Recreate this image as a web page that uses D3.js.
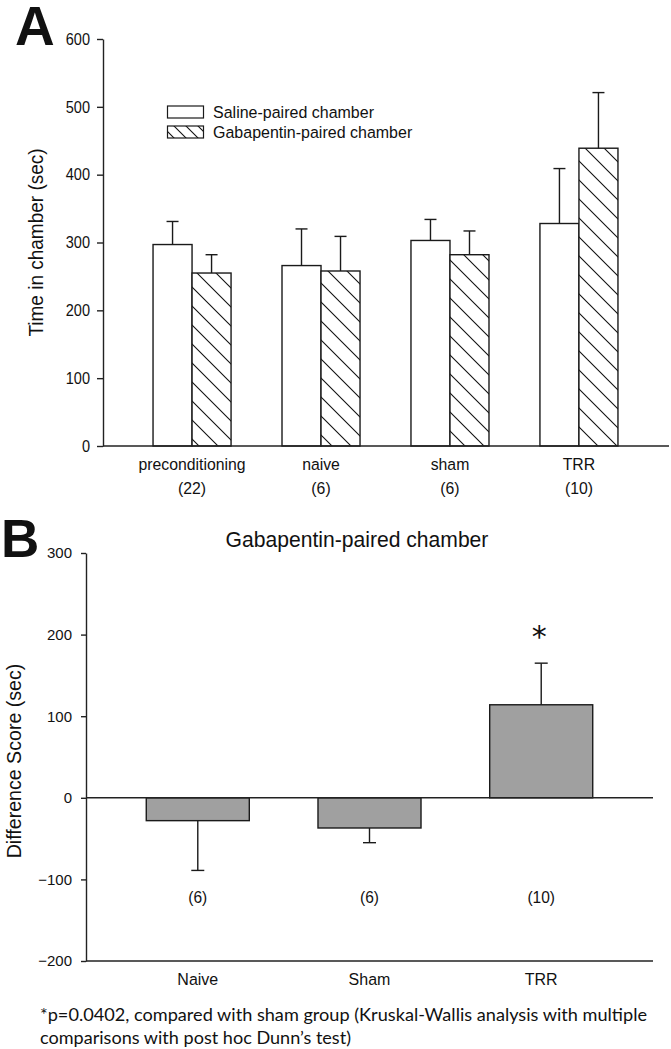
<!DOCTYPE html>
<html>
<head>
<meta charset="utf-8">
<script src="https://cdn.jsdelivr.net/npm/d3@7"></script>
<style>
  html, body { margin: 0; padding: 0; background: #fff; }
  svg { display: block; }
  text { font-family: "Liberation Sans", Arial, sans-serif; fill: #111; }
</style>
</head>
<body>
<script>
// ---------- Data: Panel A ----------
const groupsA = ["preconditioning", "naive", "sham", "TRR"];
const countsA = ["(22)", "(6)", "(6)", "(10)"];
const seriesA = ["Saline-paired chamber", "Gabapentin-paired chamber"];
const salineMean = [297, 266, 303, 328];
const salineSEM  = [34, 54, 31, 81];
const gabaMean   = [255, 258, 282, 439];
const gabaSEM    = [27, 51, 35, 82];
const ticksA = [0, 100, 200, 300, 400, 500, 600];

// ---------- Data: Panel B ----------
const groupsB = ["Naive", "Sham", "TRR"];
const countsB = ["(6)", "(6)", "(10)"];
const diffMean = [-28, -37, 114];
const diffSEM  = [61, 18, 51];
const ticksB = [-200, -100, 0, 100, 200, 300];
const titleB = "Gabapentin-paired chamber";
const footnote = ["*p=0.0402, compared with sham group (Kruskal-Wallis analysis with multiple",
                  "comparisons with post hoc Dunn\u2019s test)"];

const W = 671, H = 1049;
const svg = d3.select("body").append("svg").attr("width", W).attr("height", H);

const defs = svg.append("defs");
function hatch(id, s) {
  const p = defs.append("pattern").attr("id", id).attr("patternUnits", "userSpaceOnUse")
    .attr("width", s).attr("height", s);
  p.append("rect").attr("width", s).attr("height", s).attr("fill", "#fff");
  p.append("path").attr("d", `M-2,-2L${s+2},${s+2}M-2,${s-2}L2,${s+2}M${s-2},-2L${s+2},2`)
    .attr("stroke", "#111").attr("stroke-width", 1.1);
}
hatch("hatchBar", 19);
hatch("hatchLeg", 12);

const AX = "#222", AXW = 1.4;

// helper: horizontally condensed text
function ctext(sel, x, y, str, size, sx, anchor, rot) {
  return sel.append("text")
    .attr("transform", `translate(${x},${y})` + (rot ? ` rotate(${rot})` : "") + ` scale(${sx},1)`)
    .attr("text-anchor", anchor || "start").style("font-size", size + "px").text(str);
}

// ================= Panel A =================
const yA = d3.scaleLinear().domain([0, 600]).range([446, 39]);
const xA = d3.scaleBand().domain(groupsA).range([103, 668]).paddingInner(0.395).paddingOuter(0.388);
const xS = d3.scaleBand().domain(seriesA).range([0, xA.bandwidth()]);

const gA = svg.append("g");
const rowsA = groupsA.map((g, i) => [
  {g, s: seriesA[0], m: salineMean[i], e: salineSEM[i], fill: "#fff"},
  {g, s: seriesA[1], m: gabaMean[i], e: gabaSEM[i], fill: "url(#hatchBar)"}
]).flat();

gA.selectAll("rect.bar").data(rowsA).join("rect")
  .attr("x", d => xA(d.g) + xS(d.s)).attr("width", xS.bandwidth())
  .attr("y", d => yA(d.m)).attr("height", d => yA(0) - yA(d.m))
  .attr("fill", d => d.fill).attr("stroke", "#1a1a1a").attr("stroke-width", 1.4);

const cxA = d => xA(d.g) + xS(d.s) + xS.bandwidth() / 2;
const errA = gA.selectAll("g.err").data(rowsA).join("g");
errA.append("line")
  .attr("x1", cxA).attr("x2", cxA)
  .attr("y1", d => yA(d.m)).attr("y2", d => yA(d.m + d.e))
  .attr("stroke", "#1a1a1a").attr("stroke-width", 1.4);
errA.append("line")
  .attr("x1", d => cxA(d) - 6).attr("x2", d => cxA(d) + 6)
  .attr("y1", d => yA(d.m + d.e)).attr("y2", d => yA(d.m + d.e))
  .attr("stroke", "#1a1a1a").attr("stroke-width", 1.4);

// y axis A
const axA = gA.append("g").attr("transform", "translate(103,0)")
  .call(d3.axisLeft(yA).tickValues(ticksA).tickSize(6).tickSizeOuter(0).tickPadding(7));
axA.selectAll("path, line").attr("stroke", AX).attr("stroke-width", AXW);
axA.selectAll("text").style("font-size", "16.5px").attr("fill", "#111")
  .style("font-family", "Liberation Sans, Arial, sans-serif")
  .attr("x", -13 / 0.88).attr("transform", "scale(0.88,1)");

// x axis line A
gA.append("line").attr("x1", 103).attr("x2", 669).attr("y1", yA(0)).attr("y2", yA(0))
  .attr("stroke", AX).attr("stroke-width", AXW);

// category labels A
groupsA.forEach((g, i) => {
  const cx = xA(g) + xA.bandwidth() / 2;
  ctext(gA, cx, 470, g, 17, 0.93, "middle");
  ctext(gA, cx, 493.5, countsA[i], 17, 0.93, "middle");
});

// y label A
ctext(gA, 43, 242.5, "Time in chamber (sec)", 20, 0.95, "middle", -90);

// legend A
const leg = gA.append("g");
seriesA.forEach((s, i) => {
  leg.append("rect").attr("x", 167.5).attr("y", 106 + i * 20).attr("width", 36).attr("height", 12)
    .attr("fill", i === 0 ? "#fff" : "url(#hatchLeg)").attr("stroke", "#1a1a1a").attr("stroke-width", 1.2);
  ctext(leg, 213, 117.5 + i * 20, s, 16.5, 0.97, "start");
});

// panel letter A
svg.append("text").attr("x", 15).attr("y", 45).style("font-size", "55px").style("font-weight", "bold")
  .attr("fill", "#000").text("A");

// ================= Panel B =================
const yB = d3.scaleLinear().domain([-200, 300]).range([961, 553]);
const xB = d3.scaleBand().domain(groupsB).range([86, 653]).paddingInner(0.4).paddingOuter(0.351);
const gB = svg.append("g");
const rowsB = groupsB.map((g, i) => ({g, m: diffMean[i], e: diffSEM[i]}));

gB.selectAll("rect.bar").data(rowsB).join("rect")
  .attr("x", d => xB(d.g)).attr("width", xB.bandwidth())
  .attr("y", d => yB(Math.max(0, d.m))).attr("height", d => Math.abs(yB(d.m) - yB(0)))
  .attr("fill", "#a0a0a0").attr("stroke", "#1a1a1a").attr("stroke-width", 1.4);

const cxB = d => xB(d.g) + xB.bandwidth() / 2;
const errB = gB.selectAll("g.err").data(rowsB).join("g");
const tipB = d => d.m + Math.sign(d.m) * d.e;
errB.append("line")
  .attr("x1", cxB).attr("x2", cxB)
  .attr("y1", d => yB(d.m)).attr("y2", d => yB(tipB(d)))
  .attr("stroke", "#1a1a1a").attr("stroke-width", 1.4);
errB.append("line")
  .attr("x1", d => cxB(d) - 6.5).attr("x2", d => cxB(d) + 6.5)
  .attr("y1", d => yB(tipB(d))).attr("y2", d => yB(tipB(d)))
  .attr("stroke", "#1a1a1a").attr("stroke-width", 1.4);

// axes B
const axB = gB.append("g").attr("transform", "translate(86,0)")
  .call(d3.axisLeft(yB).tickValues(ticksB).tickSize(5).tickSizeOuter(0).tickPadding(9));
axB.selectAll("path, line").attr("stroke", AX).attr("stroke-width", AXW);
axB.selectAll("text").style("font-size", "15px").attr("fill", "#111").style("font-family", "Liberation Sans, Arial, sans-serif");

gB.append("line").attr("x1", 86).attr("x2", 653).attr("y1", yB(-200)).attr("y2", yB(-200))
  .attr("stroke", AX).attr("stroke-width", AXW);
gB.append("line").attr("x1", 86).attr("x2", 653).attr("y1", yB(0)).attr("y2", yB(0))
  .attr("stroke", AX).attr("stroke-width", AXW);

// labels B
groupsB.forEach((g, i) => {
  const cx = xB(g) + xB.bandwidth() / 2;
  ctext(gB, cx, 984.5, g, 16.5, 0.97, "middle");
  ctext(gB, cx, 903, countsB[i], 16, 0.97, "middle");
});

// significance star on TRR
gB.append("text").attr("x", xB("TRR") + xB.bandwidth() / 2 - 2).attr("y", 647)
  .attr("text-anchor", "middle").style("font-family", "DejaVu Sans, sans-serif").style("font-size", "30px").text("*");

ctext(gB, 357, 546.5, titleB, 22, 0.96, "middle");

ctext(gB, 21, 761, "Difference Score (sec)", 20, 0.98, "middle", -90);

svg.append("text").attr("x", 1).attr("y", 557).style("font-size", "53px").style("font-weight", "bold")
  .attr("fill", "#000").text("B");

// footnote
const fnW = [607, 311];
footnote.forEach((t, i) => {
  svg.append("text").attr("x", 40).attr("y", 1021 + i * 23)
    .style("font-family", "Lato, 'Open Sans', sans-serif").style("font-size", "17.5px")
    .attr("textLength", fnW[i]).attr("lengthAdjust", "spacingAndGlyphs").text(t);
});
</script>
</body>
</html>
